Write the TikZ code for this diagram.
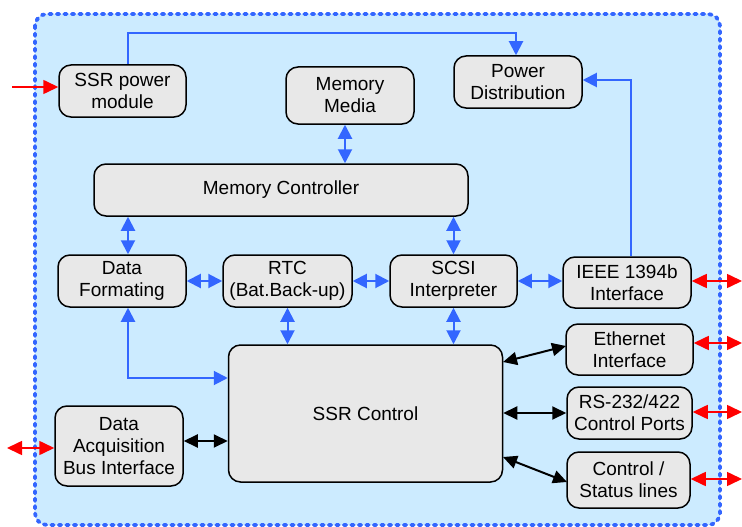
\documentclass[tikz,border=0pt]{standalone}
\usepackage{fontspec}
\setmainfont{Liberation Sans}
\usetikzlibrary{arrows.meta}
\definecolor{bgblue}{HTML}{CCEBFF}
\definecolor{lineblue}{HTML}{3366FF}
\definecolor{boxgray}{HTML}{E8E8E8}
\definecolor{arrred}{HTML}{FF0000}
\tikzset{
  blk/.style={draw=black, rounded corners=12pt, fill=boxgray, line width=1.5pt,
    align=center, inner sep=0pt, font=\fontsize{19}{22}\selectfont},
  bluearr/.style={draw=lineblue, line width=2pt,
    {Triangle[length=14pt,width=14pt]}-{Triangle[length=14pt,width=14pt]}},
  bluehead/.style={draw=lineblue, line width=2pt, -{Triangle[length=14pt,width=14pt]}},
  blackarr/.style={draw=black, line width=2pt,
    {Triangle[length=14pt,width=13pt]}-{Triangle[length=14pt,width=13pt]}},
  redarr/.style={draw=arrred, line width=1.6pt,
    {Triangle[length=15pt,width=14pt]}-{Triangle[length=15pt,width=14pt]}},
  redhead/.style={draw=arrred, line width=1.6pt, -{Triangle[length=15pt,width=14pt]}},
}
\begin{document}
\begin{tikzpicture}[x=1pt,y=-1pt]
\useasboundingbox (0,0) rectangle (742,527);
% outer container
\fill[bgblue, rounded corners=12pt] (35,14) rectangle (720,525);
\draw[lineblue, line width=3.8pt, line cap=round, dash pattern=on 2.5pt off 5pt, rounded corners=12pt] (35,14) rectangle (720,525);

% nodes
\node[blk, minimum width=127pt, minimum height=52pt] (spm) at (122.5,91) {SSR power\\module};
\node[blk, minimum width=128pt, minimum height=57pt] (mm) at (350,95.5) {Memory\\Media};
\node[blk, minimum width=128pt, minimum height=52pt] (pd) at (518,82) {Power\\Distribution};
\node[blk, minimum width=374pt, minimum height=52pt] (mc) at (281,190) {Memory Controller};
\node[blk, minimum width=128pt, minimum height=52pt] (df) at (122,281) {Data\\Formating};
\node[blk, minimum width=129pt, minimum height=52pt] (rtc) at (287.5,281) {RTC\\(Bat.Back-up)};
\node[blk, minimum width=127pt, minimum height=52pt] (scsi) at (453.5,281) {SCSI\\Interpreter};
\node[blk, minimum width=128pt, minimum height=51pt] (ieee) at (627,282.5) {IEEE 1394b\\Interface};
\node[blk, minimum width=127pt, minimum height=51pt] (eth) at (629.5,349.5) {Ethernet\\Interface};
\node[blk, minimum width=125pt, minimum height=52pt] (rs) at (629.5,413) {RS-232/422\\Control Ports};
\node[blk, minimum width=123pt, minimum height=56pt] (cs) at (628.5,480) {Control /\\Status lines};
\node[blk, minimum width=274pt, minimum height=137pt] (ssr) at (365.5,413.5) {SSR Control};
\node[blk, minimum width=128pt, minimum height=80pt] (da) at (119,446) {Data\\Acquisition\\Bus Interface};

% helper coordinates
\coordinate (t1) at (128,33);
\coordinate (t2) at (516,33);
\coordinate (t3) at (631,80);
\coordinate (dfx) at (128,0);
\coordinate (bend) at (128,378);
\coordinate (mmx) at (345,0);
\coordinate (inL) at (12,87);
\coordinate (daL) at (7,448);
\coordinate (rIEEE) at (742,281);
\coordinate (rETH) at (742,343);
\coordinate (rRS) at (742,412);
\coordinate (rCS) at (742,479);
\coordinate (daR) at (183,441);
\coordinate (ssrE1) at (503,362);
\coordinate (ethW) at (566,346);
\coordinate (ssrE2) at (503,457);
\coordinate (csW) at (567,482);

% power connections
\draw[bluehead] (spm.north -| t1) -- (t1) -- (t2) -- (t2 |- pd.north);
\draw[bluehead] (ieee.north -| t3) -- (t3) -- (t3 -| pd.east);

% blue bidirectional
\draw[bluearr] (mm.south -| mmx) -- (mc.north -| mmx);
\draw[bluearr] (mc.south -| dfx) -- (df.north -| dfx);
\draw[bluearr] (mc.south -| scsi.north) -- (scsi.north);
\draw[bluearr] (df.east) -- (rtc.west);
\draw[bluearr] (rtc.east) -- (scsi.west);
\draw[bluearr] (scsi.east) -- (scsi.east -| ieee.west);
\draw[bluearr] (rtc.south) -- (rtc.south |- ssr.north);
\draw[bluearr] (scsi.south) -- (scsi.south |- ssr.north);
\draw[bluearr] (df.south -| dfx) -- (bend) -- (bend -| ssr.west);

% black connections
\draw[blackarr] (daR -| da.east) -- (daR -| ssr.west);
\draw[blackarr] (ssrE1) -- (ethW);
\draw[blackarr] (ssr.east |- rs.west) -- (rs.west);
\draw[blackarr] (ssrE2) -- (csW);

% red external
\draw[redhead] (inL) -- (inL -| spm.west);
\draw[redarr] (daL) -- (daL -| da.west);
\draw[redarr] (ieee.east |- rIEEE) -- (rIEEE);
\draw[redarr] (eth.east |- rETH) -- (rETH);
\draw[redarr] (rs.east |- rRS) -- (rRS);
\draw[redarr] (cs.east |- rCS) -- (rCS);
\end{tikzpicture}
\end{document}
